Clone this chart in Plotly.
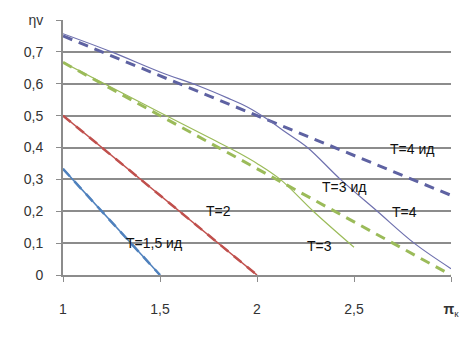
import plotly.graph_objects as go

# ---- data ----
pi_t15 = [1.0, 1.5]
eta_t15 = [0.333, 0.0]

pi_t2 = [1.0, 2.0]
eta_t2 = [0.5, 0.0]

pi_t3_id = [1.0, 3.0]
eta_t3_id = [0.667, 0.0]
pi_t3 = [1.0, 1.5, 1.75, 1.9, 2.0, 2.12, 2.29, 2.5]
eta_t3 = [0.667, 0.51, 0.432, 0.385, 0.35, 0.30, 0.20, 0.087]

pi_t4_id = [1.0, 3.0]
eta_t4_id = [0.75, 0.25]
pi_t4 = [1.0, 1.25, 1.5, 1.7, 1.85, 1.95, 2.05, 2.15, 2.26, 2.43, 2.62, 2.81, 3.0]
eta_t4 = [0.757, 0.70, 0.637, 0.593, 0.555, 0.527, 0.49, 0.447, 0.40, 0.30, 0.20, 0.10, 0.02]

x_ticks = [1, 1.5, 2, 2.5, 3]
x_labels = ["1", "1,5", "2", "2,5", "<b>π</b><sub>к</sub>"]
y_ticks = [0, 0.1, 0.2, 0.3, 0.4, 0.5, 0.6, 0.7, 0.8]
y_labels = ["0", "0,1", "0,2", "0,3", "0,4", "0,5", "0,6", "0,7", "ηv"]

labels = [
    ("T=4 ид", 2.80, 0.394),
    ("T=3 ид", 2.45, 0.276),
    ("T=4", 2.76, 0.199),
    ("T=2", 1.80, 0.202),
    ("T=3", 2.32, 0.090),
    ("T=1,5 ид", 1.47, 0.10),
]

BLUE = "#4F81BD"
RED = "#C0504D"
GREEN = "#9BBB59"
PURPLE = "#5E62A2"
DASH = "10px,7px"

fig = go.Figure()

def add(x, y, color, width, dash="solid", shape="linear"):
    fig.add_trace(go.Scatter(x=x, y=y, mode="lines",
                             line=dict(color=color, width=width, dash=dash, shape=shape),
                             showlegend=False, hoverinfo="skip"))

add(pi_t15, eta_t15, BLUE, 1.5)
add(pi_t15, eta_t15, BLUE, 2.5, DASH)
add(pi_t2, eta_t2, RED, 1.5)
add(pi_t2, eta_t2, RED, 2.5, DASH)
add(pi_t3_id, eta_t3_id, GREEN, 3, DASH)
add(pi_t3, eta_t3, GREEN, 1.2, shape="spline")
add(pi_t4_id, eta_t4_id, PURPLE, 3, DASH)
add(pi_t4, eta_t4, "#6E70AE", 1.2, shape="spline")

for text, x, y in labels:
    fig.add_annotation(x=x, y=y, text=text, showarrow=False,
                       font=dict(size=14, color="#111111"))

fig.update_layout(
    width=473, height=338,
    margin=dict(l=55, r=30, t=12, b=71),
    paper_bgcolor="white", plot_bgcolor="white",
    font=dict(family="Liberation Sans, Arial, sans-serif", size=14, color="#333333"),
    showlegend=False,
)
fig.update_xaxes(range=[1, 3], tickvals=x_ticks, ticktext=x_labels,
                 showgrid=False, zeroline=False, automargin=False,
                 showline=True, linecolor="#8c8c8c", linewidth=2,
                 ticks="outside", ticklen=5, tickcolor="#8c8c8c",
                 ticklabelstandoff=15, fixedrange=True)
fig.update_yaxes(range=[0, 0.8], tickvals=y_ticks, ticktext=y_labels,
                 showgrid=True, gridcolor="#8c8c8c", gridwidth=1.5,
                 zeroline=False, automargin=False,
                 showline=True, linecolor="#8c8c8c", linewidth=2,
                 ticks="outside", ticklen=5, tickcolor="#8c8c8c",
                 ticklabelstandoff=10, fixedrange=True)

fig.write_html("out.html")
